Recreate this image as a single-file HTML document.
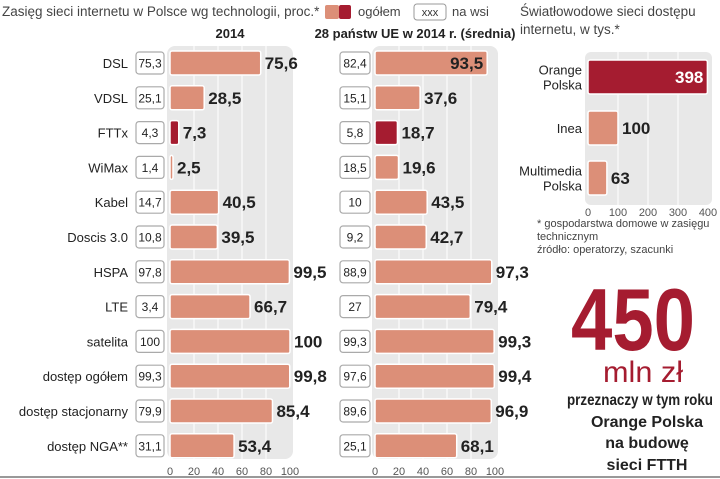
<!DOCTYPE html>
<html><head><meta charset="utf-8"><style>
html,body{margin:0;padding:0;background:#fff;}
svg{display:block;font-family:"Liberation Sans",sans-serif;}
</style></head><body>
<svg id="chart" width="720" height="479" viewBox="0 0 720 479">
<text x="2" y="16" font-size="13.5" fill="#444">Zasięg sieci internetu w Polsce wg technologii, proc.*</text>
<g>
<rect x="325" y="5" width="14" height="14" rx="2" fill="#dc8f78"/>
<rect x="339" y="5" width="12" height="14" rx="2" fill="#a51c30"/>
<text x="358" y="16" font-size="13" fill="#444">ogółem</text>
<rect x="414" y="4" width="32" height="16" rx="3" fill="#fff" stroke="#999"/>
<text x="430" y="16" font-size="11" fill="#333" text-anchor="middle">xxx</text>
<text x="452" y="16" font-size="13" fill="#444">na wsi</text>
</g>
<text x="230" y="38" font-size="13" font-weight="bold" fill="#222" text-anchor="middle">2014</text>
<text x="415" y="38" font-size="13" font-weight="bold" fill="#222" text-anchor="middle">28 państw UE w 2014 r. (średnia)</text>
<text x="520" y="16" font-size="13.5" fill="#444">Światłowodowe sieci dostępu</text>
<text x="520" y="34" font-size="13.5" fill="#444">internetu, w tys.*</text>
<g id="left"></g><g id="right"></g>
<text x="537" y="227" font-size="11" fill="#444">* gospodarstwa domowe w zasięgu</text>
<text x="537" y="240" font-size="11" fill="#444">technicznym</text>
<text x="537" y="253" font-size="11" fill="#444">źródło: operatorzy, szacunki</text>
<text x="633" y="350" font-size="88" font-weight="bold" fill="#a51c30" text-anchor="middle" textLength="124" lengthAdjust="spacingAndGlyphs">450</text>
<text x="643" y="382" font-size="30" fill="#a51c30" text-anchor="middle" textLength="80" lengthAdjust="spacingAndGlyphs">mln zł</text>
<g font-size="16" font-weight="bold" fill="#222" text-anchor="middle">
<text x="640" y="405" textLength="146" lengthAdjust="spacingAndGlyphs">przeznaczy w tym roku</text>
<text x="647" y="427">Orange Polska</text>
<text x="647" y="448">na budowę</text>
<text x="647" y="470">sieci FTTH</text>
</g>
<line x1="0" y1="477" x2="720" y2="477" stroke="#999" stroke-width="2"/>
</svg>
<script>
const categories=["DSL","VDSL","FTTx","WiMax","Kabel","Doscis 3.0","HSPA","LTE","satelita","dostęp ogółem","dostęp stacjonarny","dostęp NGA**"];
const plTotal=[75.6,28.5,7.3,2.5,40.5,39.5,99.5,66.7,100,99.8,85.4,53.4];
const plRural=["75,3","25,1","4,3","1,4","14,7","10,8","97,8","3,4","100","99,3","79,9","31,1"];
const euTotal=[93.5,37.6,18.7,19.6,43.5,42.7,97.3,79.4,99.3,99.4,96.9,68.1];
const euRural=["82,4","15,1","5,8","18,5","10","9,2","88,9","27","99,3","97,6","89,6","25,1"];
const highlight=[false,false,true,false,false,false,false,false,false,false,false,false];
const euInside=[true,false,false,false,false,false,false,false,false,false,false,false];
const pctTicks=[0,20,40,60,80,100];
const fiberCats=[["Orange","Polska"],["Inea"],["Multimedia","Polska"]];
const fiberVals=[398,100,63];
const fiberTicks=[0,100,200,300,400];

const NS="http://www.w3.org/2000/svg";
function mk(tag,a,parent,txt){const e=document.createElementNS(NS,tag);for(const k in a)e.setAttribute(k,a[k]);if(txt!==undefined)e.textContent=txt;parent.appendChild(e);return e;}
const fmt=v=>String(v).replace('.',',');
const rowY=i=>63+i*34.8;
const SALMON="#dc8f78",RED="#a51c30";

function panel(g,x0,vals,rural,boxX,boxW,inside,showCats,key){
  const sx=v=>x0+v*1.2;
  const bg=mk('rect',{x:x0-3,y:46,width:126,height:413,rx:8,fill:"#e8e8e8"},g);
  
  pctTicks.forEach(t=>{
    if(t>0&&t<100){const l=mk('line',{x1:sx(t),x2:sx(t),y1:46,y2:459,stroke:"#fff","stroke-width":1},g);
    }
    const tx=mk('text',{x:sx(t),y:475,"font-size":11,fill:"#555","text-anchor":"middle"},g,t);
    
  });
  vals.forEach((v,i)=>{
    const y=rowY(i);
    if(showCats){const c=mk('text',{x:boxX-8,y:y+5,"font-size":13,fill:"#222","text-anchor":"end"},g,categories[i]);
      }
    const b=mk('rect',{x:boxX,y:y-11,width:boxW,height:22,rx:3,fill:"#fff",stroke:"#aaa","stroke-width":1.2},g);
    
    const bt=mk('text',{x:boxX+boxW/2,y:y+4.5,"font-size":12,fill:"#222","text-anchor":"middle"},g,rural[i]);
    
    const bar=mk('rect',{x:sx(0),y:y-12,width:Math.max(sx(v)-sx(0),2),height:24,rx:2,fill:highlight[i]?RED:SALMON,stroke:"#fff","stroke-width":1.5},g);
    
    const lb=inside[i]?mk('text',{x:sx(v)-4,y:y+6,"font-size":17,"font-weight":"bold",fill:"#222","text-anchor":"end"},g,fmt(v))
      :mk('text',{x:sx(v)+4,y:y+6,"font-size":17,"font-weight":"bold",fill:"#222"},g,fmt(v));
    
  });
}
const left=document.getElementById('left');
panel(left,170,plTotal,plRural,136,28,plTotal.map(()=>false),true,'poland');
panel(left,375,euTotal,euRural,340,30,euInside,false,'eu');

const right=document.getElementById('right');
const fx=v=>588+v*0.3;
const fbg=mk('rect',{x:585,y:52,width:127,height:153,rx:6,fill:"#e8e8e8"},right);

fiberTicks.forEach(t=>{
  if(t>0&&t<400){const l=mk('line',{x1:fx(t),x2:fx(t),y1:52,y2:205,stroke:"#fff"},right);
  }
  const tx=mk('text',{x:fx(t),y:216,"font-size":11,fill:"#555","text-anchor":"middle"},right,t);
  
});
const fyc=[77,128,178];
fiberVals.forEach((v,i)=>{
  const y=fyc[i];
  const bar=mk('rect',{x:fx(0),y:y-17,width:fx(v)-fx(0),height:34,rx:2,fill:i===0?RED:SALMON,stroke:"#fff","stroke-width":1.5},right);
  
  const lines=fiberCats[i];
  lines.forEach((s,j)=>{const c=mk('text',{x:582,y:y+5+(j-(lines.length-1)/2)*15,"font-size":13,fill:"#222","text-anchor":"end"},right,s);
    });
  const lb=i===0?mk('text',{x:fx(v)-4,y:y+6,"font-size":17,"font-weight":"bold",fill:"#fff","text-anchor":"end"},right,v)
    :mk('text',{x:fx(v)+4,y:y+6,"font-size":17,"font-weight":"bold",fill:"#222"},right,v);
  
});
</script>
</body></html>
